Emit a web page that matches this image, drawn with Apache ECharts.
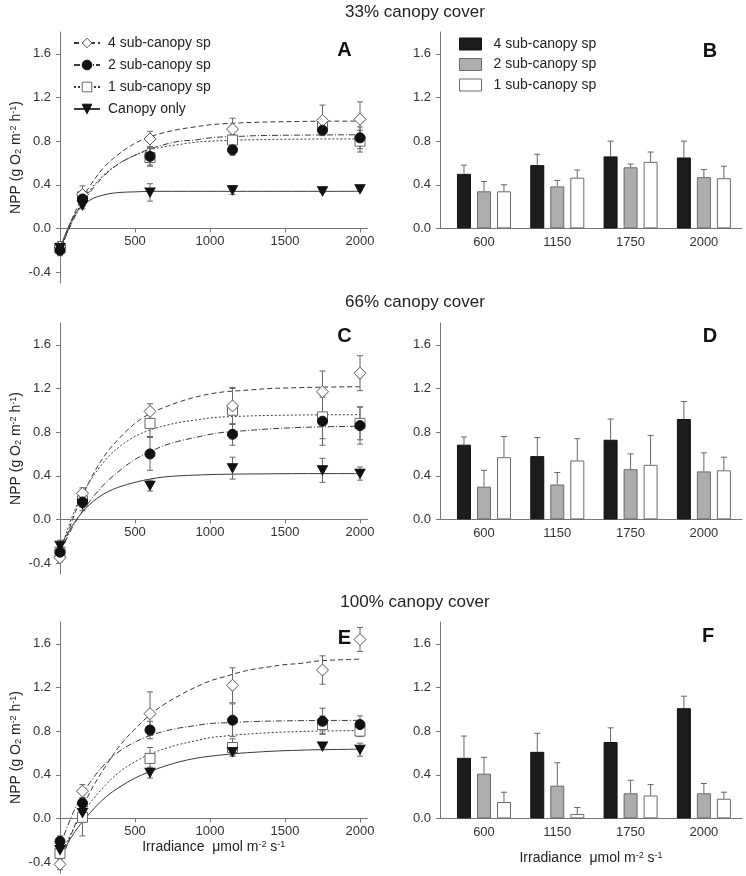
<!DOCTYPE html>
<html>
<head>
<meta charset="utf-8">
<script src="https://cdn.jsdelivr.net/npm/echarts@6/dist/echarts.min.js"></script>
<style>
html, body { margin: 0; padding: 0; background: #fff; }
#main { width: 746px; height: 876px; }
</style>
</head>
<body>
<div id="main"></div>
<script>
// irradiance levels of the measurements and of the fitted curves
var irradiance = [0, 150, 600, 1150, 1750, 2000];
var fitX = [0, 100, 200, 300, 400, 500, 600, 700, 800, 900, 1000,
            1100, 1200, 1300, 1400, 1500, 1600, 1700, 1800, 1900, 2000];
var groupNames = ['4 sub-canopy sp', '2 sub-canopy sp', '1 sub-canopy sp', 'Canopy only'];
var barCats = ['600', '1150', '1750', '2000'];
var coverTitles = ['33% canopy cover', '66% canopy cover', '100% canopy cover'];
var panelLetters = ['A', 'B', 'C', 'D', 'E', 'F'];
var nppTicks = [-0.4, 0, 0.4, 0.8, 1.2, 1.6];
var barTicks = [0, 0.4, 0.8, 1.2, 1.6];
var irrTicks = [500, 1000, 1500, 2000];

// NPP points, rows: 4 sp, 2 sp, 1 sp, canopy only
var npp33 = [
  [-0.17, 0.31, 0.82, 0.91, 0.99, 1.00],
  [-0.20, 0.27, 0.66, 0.72, 0.90, 0.83],
  [-0.18, 0.29, 0.65, 0.81, 0.95, 0.80],
  [-0.18, 0.21, 0.33, 0.35, 0.34, 0.36]
];
var err33 = [
  [0.05, 0.08, 0.07, 0.10, 0.14, 0.16],
  [0.05, 0.05, 0.08, 0.05, 0.03, 0.10],
  [0.06, 0.05, 0.08, 0.05, 0.04, 0.10],
  [0.04, 0.03, 0.08, 0.04, 0.01, 0.01]
];
var fit33 = [
  [-0.20, 0.15, 0.39, 0.57, 0.69, 0.78, 0.84, 0.88, 0.91, 0.93, 0.95, 0.96, 0.967, 0.972, 0.976, 0.978, 0.98, 0.982, 0.983, 0.983, 0.984],
  [-0.20, 0.11, 0.33, 0.49, 0.60, 0.67, 0.73, 0.77, 0.80, 0.81, 0.83, 0.84, 0.844, 0.85, 0.852, 0.854, 0.855, 0.856, 0.857, 0.858, 0.858],
  [-0.20, 0.12, 0.35, 0.50, 0.60, 0.67, 0.72, 0.75, 0.77, 0.79, 0.80, 0.805, 0.81, 0.813, 0.815, 0.817, 0.818, 0.819, 0.82, 0.82, 0.82],
  [-0.18, 0.13, 0.26, 0.31, 0.33, 0.335, 0.34, 0.34, 0.34, 0.34, 0.34, 0.34, 0.34, 0.34, 0.34, 0.34, 0.34, 0.34, 0.34, 0.34, 0.34]
];

var npp66 = [
  [-0.35, 0.24, 0.99, 1.04, 1.17, 1.34],
  [-0.30, 0.16, 0.60, 0.78, 0.90, 0.86],
  [-0.30, 0.17, 0.88, 1.00, 0.94, 0.88],
  [-0.24, 0.14, 0.31, 0.47, 0.45, 0.42]
];
var err66 = [
  [0.04, 0.05, 0.07, 0.17, 0.19, 0.16],
  [0.05, 0.05, 0.15, 0.10, 0.22, 0.17],
  [0.05, 0.05, 0.12, 0.20, 0.20, 0.15],
  [0.05, 0.06, 0.05, 0.10, 0.11, 0.06]
];
var fit66 = [
  [-0.36, 0.06, 0.36, 0.59, 0.75, 0.88, 0.97, 1.03, 1.08, 1.12, 1.15, 1.17, 1.18, 1.19, 1.20, 1.204, 1.208, 1.211, 1.213, 1.215, 1.216],
  [-0.30, -0.03, 0.17, 0.33, 0.45, 0.55, 0.62, 0.68, 0.72, 0.75, 0.78, 0.80, 0.81, 0.82, 0.83, 0.837, 0.843, 0.847, 0.85, 0.852, 0.854],
  [-0.30, 0.09, 0.35, 0.54, 0.67, 0.76, 0.82, 0.86, 0.89, 0.91, 0.93, 0.94, 0.945, 0.95, 0.953, 0.955, 0.957, 0.958, 0.959, 0.959, 0.96],
  [-0.25, -0.02, 0.14, 0.24, 0.30, 0.34, 0.37, 0.39, 0.40, 0.406, 0.411, 0.414, 0.416, 0.417, 0.418, 0.419, 0.42, 0.42, 0.42, 0.42, 0.42]
];

var npp100 = [
  [-0.42, 0.25, 0.96, 1.22, 1.36, 1.64],
  [-0.21, 0.14, 0.81, 0.90, 0.89, 0.86],
  [-0.32, 0.01, 0.55, 0.65, 0.86, 0.80],
  [-0.29, 0.05, 0.42, 0.61, 0.66, 0.63]
];
var err100 = [
  [0.05, 0.06, 0.20, 0.16, 0.13, 0.11],
  [0.05, 0.05, 0.08, 0.15, 0.12, 0.08],
  [0.05, 0.17, 0.10, 0.08, 0.08, 0.05],
  [0.05, 0.05, 0.05, 0.03, 0.03, 0.06]
];
var fit100 = [
  [-0.42, -0.06, 0.24, 0.47, 0.67, 0.82, 0.95, 1.05, 1.13, 1.20, 1.26, 1.30, 1.34, 1.37, 1.39, 1.41, 1.42, 1.44, 1.45, 1.455, 1.46],
  [-0.25, 0.09, 0.33, 0.50, 0.62, 0.70, 0.76, 0.80, 0.83, 0.85, 0.87, 0.876, 0.883, 0.888, 0.892, 0.894, 0.896, 0.897, 0.898, 0.898, 0.899],
  [-0.35, -0.07, 0.14, 0.30, 0.43, 0.52, 0.59, 0.64, 0.68, 0.71, 0.74, 0.755, 0.768, 0.778, 0.786, 0.792, 0.796, 0.80, 0.802, 0.804, 0.806],
  [-0.35, -0.12, 0.05, 0.19, 0.29, 0.37, 0.43, 0.48, 0.52, 0.55, 0.57, 0.585, 0.598, 0.607, 0.615, 0.621, 0.625, 0.629, 0.631, 0.633, 0.635]
];

// sub-canopy bars, rows: 4 sp, 2 sp, 1 sp
var bar33 = [[0.50, 0.58, 0.66, 0.65], [0.34, 0.385, 0.56, 0.47], [0.34, 0.465, 0.61, 0.46]];
var barErr33 = [[0.08, 0.10, 0.14, 0.15], [0.09, 0.055, 0.03, 0.07], [0.06, 0.07, 0.09, 0.11]];
var bar66 = [[0.685, 0.58, 0.73, 0.92], [0.30, 0.32, 0.46, 0.44], [0.57, 0.54, 0.50, 0.45]];
var barErr66 = [[0.07, 0.17, 0.19, 0.16], [0.15, 0.11, 0.14, 0.17], [0.19, 0.20, 0.27, 0.12]];
var bar100 = [[0.555, 0.61, 0.70, 1.01], [0.41, 0.30, 0.23, 0.23], [0.15, 0.04, 0.21, 0.18]];
var barErr100 = [[0.20, 0.17, 0.13, 0.11], [0.15, 0.21, 0.12, 0.09], [0.09, 0.06, 0.10, 0.06]];

var rows = [
  {npp: npp33, err: err33, fit: fit33, bar: bar33, barErr: barErr33},
  {npp: npp66, err: err66, fit: fit66, bar: bar66, barErr: barErr66},
  {npp: npp100, err: err100, fit: fit100, bar: bar100, barErr: barErr100}
];

// look
var FONT = 'Liberation Sans, Arial, Helvetica, sans-serif';
var axisGray = '#777';
var textDark = '#222';
var rowTop = [32, 323, 622];
var lineTypes = [[5, 3], [6, 2, 1, 2], [2, 2], 'solid'];
var markSymbols = ['diamond', 'circle', 'rect', 'path://M0,0L10,0L5,9Z'];
var markSizes = [12, 10, 10, [10, 9]];
var markFill = ['#fff', '#111', '#fff', '#111'];
var markBorder = ['#555', '#111', '#666', '#111'];
var barFill = ['#1c1c1c', '#adadad', '#ffffff'];
var barBorder = ['#111', '#6a6a6a', '#6a6a6a'];
var barShift = [-20, 0, 20];
// left panels: y from -0.5 to 1.8 over 251px, so the zero line sits 54.6px above the bottom
var zeroOffset = -251 * 0.5 / 2.3;

var supRich = {
  a: {fontSize: 14, fontFamily: FONT, color: textDark},
  b: {fontSize: 9, fontFamily: FONT, color: textDark, verticalAlign: 'bottom'},
  c: {fontSize: 9, fontFamily: FONT, color: textDark, verticalAlign: 'top'}
};
var nppName = '{a|NPP (g O}{b|2}{a| m}{c|-2}{a| h}{c|-1}{a|)}';
var irrName = '{a|Irradiance  \u03bcmol m}{c|-2}{a| s}{c|-1}';

function pointErr(params, api) {
  var x = api.value(0), y = api.value(1), e = api.value(2);
  var hi = api.coord([x, y + e]), lo = api.coord([x, y - e]);
  var st = {stroke: '#666', lineWidth: 1};
  return {type: 'group', children: [
    {type: 'line', shape: {x1: hi[0], y1: hi[1], x2: lo[0], y2: lo[1]}, style: st},
    {type: 'line', shape: {x1: hi[0] - 3, y1: hi[1], x2: hi[0] + 3, y2: hi[1]}, style: st},
    {type: 'line', shape: {x1: lo[0] - 3, y1: lo[1], x2: lo[0] + 3, y2: lo[1]}, style: st}
  ]};
}

function barErrRenderer(shift) {
  return function (params, api) {
    var x = api.value(0), y = api.value(1), e = api.value(2);
    var top = api.coord([x, y + e]), base = api.coord([x, y]);
    var cx = top[0] + shift;
    var st = {stroke: '#666', lineWidth: 1};
    return {type: 'group', children: [
      {type: 'line', shape: {x1: cx, y1: base[1], x2: cx, y2: top[1]}, style: st},
      {type: 'line', shape: {x1: cx - 3, y1: top[1], x2: cx + 3, y2: top[1]}, style: st}
    ]};
  };
}

var grid = [], xAxis = [], yAxis = [], series = [], legend = [], title = [];

rows.forEach(function (row, r) {
  var gl = 2 * r, gb = 2 * r + 1;
  grid.push({left: 60, top: rowTop[r], width: 307.5, height: 251});
  grid.push({left: 440, top: rowTop[r], width: 302, height: 196.4});

  xAxis.push({
    type: 'value', gridIndex: gl, min: 0, max: 2050, offset: zeroOffset,
    axisLine: {onZero: false, lineStyle: {color: axisGray}},
    axisTick: {customValues: irrTicks, length: 4, lineStyle: {color: axisGray}},
    axisLabel: {customValues: irrTicks, margin: 6, fontSize: 13, color: '#333', fontFamily: FONT,
      formatter: function (v) { return String(v); }},
    splitLine: {show: false},
    name: r === 2 ? irrName : '', nameLocation: 'middle', nameGap: 22,
    nameTextStyle: {rich: supRich}
  });
  yAxis.push({
    type: 'value', gridIndex: gl, min: -0.5, max: 1.8,
    axisLine: {show: true, onZero: false, lineStyle: {color: axisGray}},
    axisTick: {show: true, customValues: nppTicks, length: 4, lineStyle: {color: axisGray}},
    axisLabel: {customValues: nppTicks, margin: 9, fontSize: 13, color: '#333', fontFamily: FONT,
      formatter: function (v) { return v.toFixed(1); }},
    splitLine: {show: false},
    name: nppName, nameLocation: 'middle', nameGap: 37,
    nameTextStyle: {rich: supRich}
  });
  xAxis.push({
    type: 'value', gridIndex: gb, min: -0.6, max: 3.52,
    axisLine: {onZero: false, lineStyle: {color: axisGray}},
    axisTick: {show: false},
    axisLabel: {customValues: [0, 1, 2, 3], margin: 8, fontSize: 13, color: '#333', fontFamily: FONT,
      formatter: function (v) { return barCats[Math.round(v)]; }},
    splitLine: {show: false},
    name: r === 2 ? irrName : '', nameLocation: 'middle', nameGap: 33,
    nameTextStyle: {rich: supRich}
  });
  yAxis.push({
    type: 'value', gridIndex: gb, min: 0, max: 1.8,
    axisLine: {show: true, onZero: false, lineStyle: {color: axisGray}},
    axisTick: {show: true, customValues: barTicks, length: 4, lineStyle: {color: axisGray}},
    axisLabel: {customValues: barTicks, margin: 9, fontSize: 13, color: '#333', fontFamily: FONT,
      formatter: function (v) { return v.toFixed(1); }},
    splitLine: {show: false}
  });

  // fitted curves
  row.fit.forEach(function (vals, g) {
    series.push({
      name: 'fit' + r + '_' + g, type: 'line', xAxisIndex: gl, yAxisIndex: gl,
      data: fitX.map(function (x, i) { return [x, vals[i]]; }),
      smooth: 0.35, showSymbol: false, silent: true, z: 2,
      symbol: markSymbols[g],
      itemStyle: {color: markFill[g], borderColor: markBorder[g], borderWidth: 1},
      lineStyle: {color: '#3a3a3a', width: 1, type: lineTypes[g]}
    });
  });
  // error bars then points
  row.npp.forEach(function (vals, g) {
    series.push({
      name: 'err' + r + '_' + g, type: 'custom', xAxisIndex: gl, yAxisIndex: gl,
      renderItem: pointErr, encode: {x: 0, y: 1}, z: 3, silent: true,
      data: irradiance.map(function (x, i) { return [x, vals[i], row.err[g][i]]; })
    });
  });
  [2, 0, 1, 3].forEach(function (g) {
    series.push({
      name: 'pt' + r + '_' + g, type: 'scatter', xAxisIndex: gl, yAxisIndex: gl, z: 5,
      symbol: markSymbols[g], symbolSize: markSizes[g],
      itemStyle: {color: markFill[g], borderColor: markBorder[g], borderWidth: 1, opacity: 1},
      data: irradiance.map(function (x, i) { return [x, row.npp[g][i]]; })
    });
  });
  // bars
  row.bar.forEach(function (vals, k) {
    series.push({
      name: 'bar' + r + '_' + k, type: 'bar', xAxisIndex: gb, yAxisIndex: gb,
      barWidth: 14, barGap: '43%', z: 2,
      itemStyle: {color: barFill[k], borderColor: barBorder[k], borderWidth: 1},
      data: barCats.map(function (c, i) { return [i, vals[i]]; })
    });
    series.push({
      name: 'barErr' + r + '_' + k, type: 'custom', xAxisIndex: gb, yAxisIndex: gb,
      renderItem: barErrRenderer(barShift[k]), encode: {x: 0, y: 1}, z: 3, silent: true,
      data: barCats.map(function (c, i) { return [i, vals[i], row.barErr[k][i]]; })
    });
  });

  title.push({
    text: coverTitles[r], left: 415, top: [4, 294, 594][r], textAlign: 'center', padding: 0,
    textStyle: {fontSize: 17, fontWeight: 'normal', color: textDark, fontFamily: FONT}
  });
});

var letterPos = [[344.5, 40], [710, 41.5], [344.5, 326.5], [710, 326.5], [344.5, 628.5], [708, 626.5]];
panelLetters.forEach(function (t, i) {
  title.push({
    text: t, left: letterPos[i][0], top: letterPos[i][1], textAlign: 'center', padding: 0,
    textStyle: {fontSize: 20, fontWeight: 'bold', color: '#111', fontFamily: FONT}
  });
});

legend.push({
  orient: 'vertical', left: 73, top: 36, padding: 0, itemWidth: 26, itemHeight: 12, itemGap: 8,
  selectedMode: false,
  data: groupNames.map(function (n, g) { return 'fit0_' + g; }),
  formatter: function (n) { return groupNames[+n.split('_')[1]]; },
  itemStyle: {borderWidth: 1},
  textStyle: {fontSize: 14, color: textDark, fontFamily: FONT, padding: [0, 0, 0, 3]}
});
legend.push({
  orient: 'vertical', left: 459, top: 37, padding: 0, itemWidth: 22, itemHeight: 12, itemGap: 6.5,
  selectedMode: false, icon: 'rect',
  data: [0, 1, 2].map(function (k) { return 'bar0_' + k; }),
  formatter: function (n) { return groupNames[+n.split('_')[1]]; },
  itemStyle: {borderWidth: 1},
  textStyle: {fontSize: 14, color: textDark, fontFamily: FONT, padding: [0, 0, 0, 7]}
});

var chart = echarts.init(document.getElementById('main'));
chart.setOption({
  animation: false,
  backgroundColor: '#fff',
  textStyle: {fontFamily: FONT},
  title: title,
  legend: legend,
  grid: grid,
  xAxis: xAxis,
  yAxis: yAxis,
  series: series
});
</script>
</body>
</html>
